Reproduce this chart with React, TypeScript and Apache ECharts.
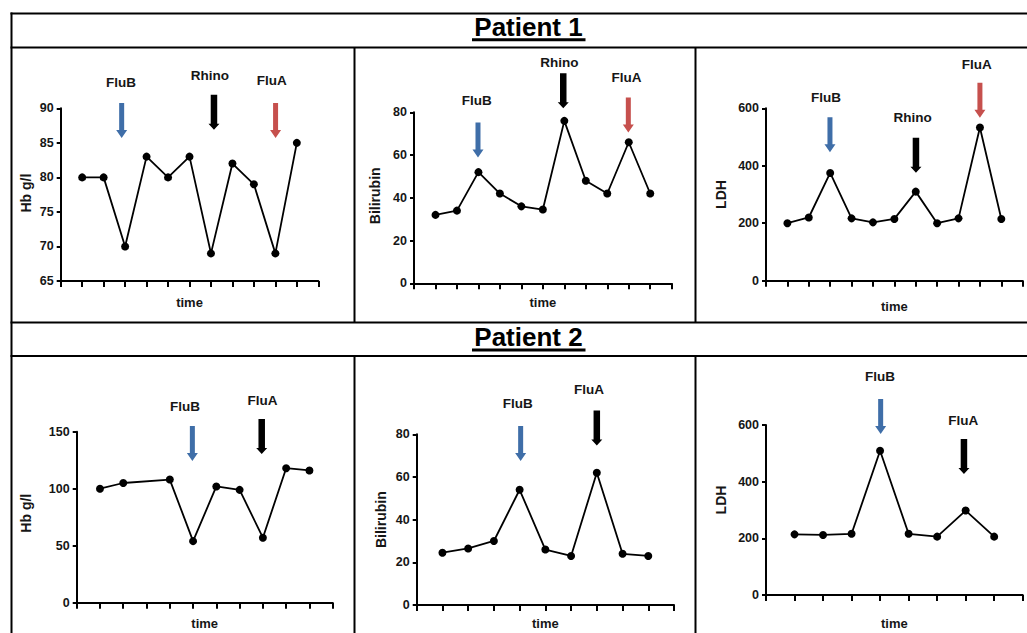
import React, { useEffect, useRef } from "react";
import * as echarts from "echarts";

// ---------- data ----------
const p1Time = [1, 2, 3, 4, 5, 6, 7, 8, 9, 10, 11];
const p1Hb = [80, 80, 70, 83, 80, 83, 69, 82, 79, 69, 85];
const p1Bili = [32, 34, 52, 42, 36, 34.5, 76, 48, 42, 66, 42];
const p1Ldh = [200, 220, 375, 217, 203, 215, 310, 200, 217, 533, 215];

const p2HbTime = [1, 2, 4, 5, 6, 7, 8, 9, 10];
const p2Hb = [100, 105, 108, 54, 102, 99, 57, 118, 116];
const p2BiliTime = [1, 2, 3, 4, 5, 6, 7, 8, 9];
const p2Bili = [24.5, 26.5, 30, 54, 26, 23, 62, 24, 23];
const p2LdhTime = [1, 2, 3, 4, 5, 6, 7, 8];
const p2Ldh = [214, 212, 216, 509, 216, 206, 298, 206];

const patientTitles = ["Patient 1", "Patient 2"];
const yNames = ["Hb g/l", "Bilirubin", "LDH", "Hb g/l", "Bilirubin", "LDH"];
const xName = "time";
const yMins = [65, 0, 0, 0, 0, 0];
const yMaxs = [90, 80, 600, 150, 80, 600];
const yIntervals = [5, 20, 200, 50, 20, 200];
const xMaxs = [12, 12, 12, 11, 10, 9];

// annotations: [label, arrow x, arrow tip value, label x, label value]
const notesP1Hb: [string, number, number, number, number][] = [
  ["FluB", 2.84, 85.7, 2.81, 93.8],
  ["Rhino", 7.14, 86.9, 6.95, 94.7],
  ["FluA", 10.01, 85.7, 9.83, 94.0],
];
const notesP1Bili: [string, number, number, number, number][] = [
  ["FluB", 2.98, 58.8, 2.92, 85.3],
  ["Rhino", 6.95, 81.9, 6.77, 103.4],
  ["FluA", 9.98, 70.6, 9.9, 96.4],
];
const notesP1Ldh: [string, number, number, number, number][] = [
  ["FluB", 2.99, 447, 2.81, 638],
  ["Rhino", 7.01, 376, 6.86, 567],
  ["FluA", 10.0, 567, 9.85, 751],
];
const notesP2Hb: [string, number, number, number, number][] = [
  ["FluB", 4.97, 124.3, 4.65, 171.9],
  ["FluA", 7.95, 130.4, 7.98, 177.2],
];
const notesP2Bili: [string, number, number, number, number][] = [
  ["FluB", 4.04, 67.5, 3.93, 94.6],
  ["FluA", 7.0, 74.7, 6.7, 100.8],
];
const notesP2Ldh: [string, number, number, number, number][] = [
  ["FluB", 4.02, 568, 4.0, 770],
  ["FluA", 6.94, 427, 6.92, 615],
];

// ---------- styles ----------
const BLUE = "#3f6ea8";
const RED = "#c6504d";
const BLACK = "#000000";
const FONT = '"Liberation Sans", Arial, Helvetica, sans-serif';
const TEXT = "#161616";

const noteColors = [
  [BLUE, BLACK, RED],
  [BLUE, BLACK, RED],
  [BLUE, BLACK, RED],
  [BLUE, BLACK],
  [BLUE, BLACK],
  [BLUE, BLACK],
];

const grids = [
  { left: 60.7, top: 108.3, width: 257.6, height: 172.7 },
  { left: 414, top: 112.3, width: 257.7, height: 171 },
  { left: 766, top: 108.3, width: 256.7, height: 172.4 },
  { left: 76.7, top: 431.7, width: 256, height: 171 },
  { left: 416.7, top: 434.3, width: 257.3, height: 170.7 },
  { left: 766, top: 425, width: 256.7, height: 170 },
];
const yNameGaps = [27.5, 32.5, 38.5, 43.5, 28.5, 38.5];
const yNamePads = [
  [0, 0, 0, 3],
  [0, 0, 0, 4],
  [0, 0, 0, 0],
  [0, 0, 0, 8],
  [0, 0, 0, 0],
  [0, 0, 0, 20],
];
const xNameGaps = [15, 13, 19, 14, 12, 22];

export default function App() {
  const ref = useRef<HTMLDivElement>(null);

  useEffect(() => {
    document.body.style.margin = "0";
    if (!ref.current) return;
    const chart = echarts.init(ref.current, undefined, { renderer: "svg" });

    const seriesData = [
      p1Time.map((t, i) => [t, p1Hb[i]]),
      p1Time.map((t, i) => [t, p1Bili[i]]),
      p1Time.map((t, i) => [t, p1Ldh[i]]),
      p2HbTime.map((t, i) => [t, p2Hb[i]]),
      p2BiliTime.map((t, i) => [t, p2Bili[i]]),
      p2LdhTime.map((t, i) => [t, p2Ldh[i]]),
    ];
    const notes = [notesP1Hb, notesP1Bili, notesP1Ldh, notesP2Hb, notesP2Bili, notesP2Ldh];

    const axisLine = { show: true, onZero: false, lineStyle: { color: "#000", width: 2 } };

    chart.setOption({
      animation: false,
      backgroundColor: "#ffffff",
      grid: grids.map((g) => ({ ...g, containLabel: false })),
      xAxis: grids.map((_, i) => ({
        type: "value",
        gridIndex: i,
        min: 0,
        max: xMaxs[i],
        interval: 1,
        name: xName,
        nameLocation: "middle",
        nameGap: xNameGaps[i],
        nameTextStyle: { fontFamily: FONT, fontWeight: "bold", fontSize: 13, color: TEXT },
        axisLine,
        axisTick: { show: true, inside: false, length: 6, lineStyle: { color: "#000", width: 2 } },
        axisLabel: { show: false },
        splitLine: { show: false },
      })),
      yAxis: grids.map((_, i) => ({
        type: "value",
        gridIndex: i,
        min: yMins[i],
        max: yMaxs[i],
        interval: yIntervals[i],
        name: yNames[i],
        nameLocation: "middle",
        nameGap: yNameGaps[i],
        nameTextStyle: {
          fontFamily: FONT,
          fontWeight: "bold",
          fontSize: 14,
          color: TEXT,
          padding: yNamePads[i],
        },
        axisLine,
        axisTick: { show: true, inside: false, length: 4, lineStyle: { color: "#000", width: 2 } },
        axisLabel: { show: true, margin: 7, fontFamily: FONT, fontWeight: "bold", fontSize: 12.5, color: TEXT },
        splitLine: { show: false },
      })),
      series: seriesData.map((d, i) => ({
        type: "line",
        xAxisIndex: i,
        yAxisIndex: i,
        data: d,
        symbol: "circle",
        symbolSize: 8,
        showSymbol: true,
        lineStyle: { color: "#000", width: 1.8 },
        itemStyle: { color: "#000" },
        clip: false,
      })),
    });

    const elements: any[] = [];
    // table lines
    const lw = 2;
    const hLine = (y: number, x1: number, x2: number) =>
      elements.push({ type: "line", shape: { x1, y1: y, x2, y2: y }, style: { stroke: "#000", lineWidth: lw } });
    const vLine = (x: number, y1: number, y2: number) =>
      elements.push({ type: "line", shape: { x1: x, y1, x2: x, y2 }, style: { stroke: "#000", lineWidth: lw } });
    hLine(13.5, 10.5, 1027);
    hLine(47.5, 10.5, 1027);
    hLine(322.5, 10.5, 1027);
    hLine(356, 10.5, 1027);
    vLine(11.5, 12.5, 633);
    vLine(354.5, 47.5, 322.5);
    vLine(695.5, 47.5, 322.5);
    vLine(354.5, 356, 633);
    vLine(695.5, 356, 633);

    // titles with underline
    const titleY = [26.5, 336.5];
    const underlineY = [39.8, 350];
    patientTitles.forEach((t, i) => {
      elements.push({
        type: "text",
        x: 528.5,
        y: titleY[i],
        style: {
          text: t,
          font: `bold 26px ${FONT}`,
          fill: "#000",
          align: "center",
          verticalAlign: "middle",
          textAlign: "center",
          textVerticalAlign: "middle",
        },
      });
      elements.push({
        type: "line",
        shape: { x1: 472, y1: underlineY[i], x2: 585.5, y2: underlineY[i] },
        style: { stroke: "#000", lineWidth: 3 },
      });
    });

    // arrows and labels
    const arrowLen = 35;
    notes.forEach((list, gi) => {
      list.forEach((n, k) => {
        const [label, ax, tipV, lx, lv] = n;
        const color = noteColors[gi][k];
        const tip = chart.convertToPixel({ gridIndex: gi } as any, [ax, tipV]) as number[];
        const lp = chart.convertToPixel({ gridIndex: gi } as any, [lx, lv]) as number[];
        const isBlack = color === BLACK;
        const s = isBlack ? 6.5 : 5;
        const w = 11;
        const h = isBlack ? 6 : 8;
        const x = tip[0];
        const y = tip[1];
        elements.push({
          type: "polygon",
          shape: {
            points: [
              [x - s / 2, y - arrowLen],
              [x + s / 2, y - arrowLen],
              [x + s / 2, y - h],
              [x + w / 2, y - h],
              [x, y],
              [x - w / 2, y - h],
              [x - s / 2, y - h],
            ],
          },
          style: { fill: color },
        });
        elements.push({
          type: "text",
          x: lp[0],
          y: lp[1],
          style: {
            text: label,
            font: `bold 13.5px ${FONT}`,
            fill: TEXT,
            align: "center",
            verticalAlign: "middle",
            textAlign: "center",
            textVerticalAlign: "middle",
          },
        });
      });
    });

    chart.setOption({ graphic: { elements } });

    return () => chart.dispose();
  }, []);

  return <div ref={ref} style={{ width: 1027, height: 633 }} />;
}
